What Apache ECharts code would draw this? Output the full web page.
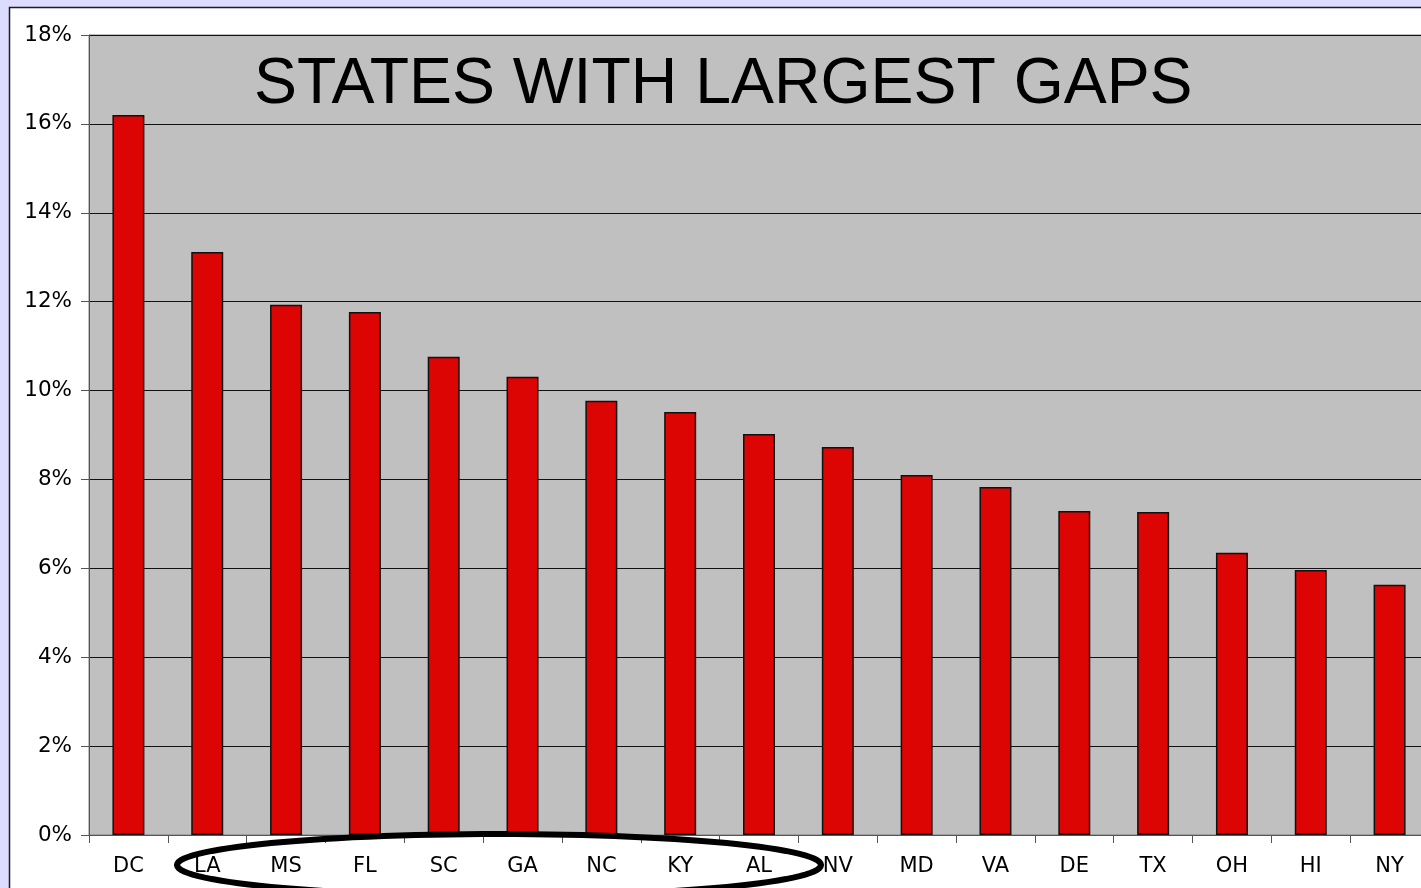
<html>
<head>
    <meta http-equiv="Content-Type" content="text/html; charset=utf-8" />
    <title>States with largest gaps</title>
    <script src="https://cdn.jsdelivr.net/npm/echarts@6/dist/echarts.min.js"></script>
    <style>html,body{margin:0;padding:0;width:100%;height:100%;overflow:hidden;}</style>
</head>
<body>
    <!-- the plot runs past the right edge of the window, as in the source slide -->
    <div id="main" style="width:1450px;height:888px"></div>
    <script type="text/javascript">
        var states = ['DC', 'LA', 'MS', 'FL', 'SC', 'GA', 'NC', 'KY', 'AL', 'NV', 'MD', 'VA', 'DE', 'TX', 'OH', 'HI', 'NY'];
        var gaps = [16.2, 13.12, 11.93, 11.77, 10.76, 10.31, 9.77, 9.52, 9.02, 8.73, 8.10, 7.83, 7.29, 7.27, 6.35, 5.96, 5.63];
        var yTicks = [0, 2, 4, 6, 8, 10, 12, 14, 16, 18];

        // ellipse drawn round the southern states
        var ring = [];
        for (var i = 0; i < 120; i++) {
            var a = i / 120 * Math.PI * 2;
            ring.push([499 + 322 * Math.cos(a), 865 + 31 * Math.sin(a)]);
        }

        var option = {
            backgroundColor: '#dcdcfe',
            animation: false,
            grid: {
                left: 89,
                top: 35,
                width: 1340,
                height: 800,
                show: true,
                backgroundColor: '#c0c0c0',
                borderColor: '#808080',
                borderWidth: 1
            },
            xAxis: {
                type: 'category',
                data: states,
                axisLine: { lineStyle: { color: '#555', width: 1 } },
                axisTick: { show: true, length: 8, lineStyle: { color: '#555' } },
                axisLabel: {
                    color: '#000',
                    fontFamily: 'DejaVu Sans',
                    fontSize: 21,
                    margin: 21
                }
            },
            yAxis: {
                type: 'value',
                min: 0,
                max: 18,
                interval: 2,
                axisLine: { show: true, lineStyle: { color: '#555', width: 1 } },
                axisTick: { show: true, length: 8, lineStyle: { color: '#555' } },
                axisLabel: {
                    color: '#000',
                    fontFamily: 'DejaVu Sans',
                    fontSize: 21.5,
                    margin: 17,
                    formatter: function (v) { return yTicks.indexOf(v) >= 0 ? v + '%' : ''; }
                },
                splitLine: { show: true, lineStyle: { color: '#111', width: 1 } }
            },
            graphic: [
                {
                    type: 'rect',
                    z: -10,
                    shape: { x: 9.5, y: 7.5, width: 1500, height: 1000 },
                    style: { fill: '#ffffff', stroke: '#1a1a2a', lineWidth: 1.5 }
                },
                {
                    type: 'text',
                    left: 254,
                    top: 53,
                    z: 10,
                    style: {
                        text: 'STATES WITH LARGEST GAPS',
                        fontFamily: 'Liberation Sans',
                        fontSize: 64.4,
                        fill: '#000'
                    }
                },
                {
                    type: 'polygon',
                    z: 20,
                    shape: { points: ring, smooth: 0 },
                    style: { fill: null, stroke: '#000', lineWidth: 6 }
                }
            ],
            series: [{
                type: 'bar',
                data: gaps,
                barWidth: 32,
                itemStyle: {
                    color: '#dd0404',
                    borderColor: '#111',
                    borderWidth: 1.5
                }
            }]
        };

        var myChart = echarts.init(document.getElementById('main'));
        myChart.setOption(option);
    </script>
</body>
</html>
